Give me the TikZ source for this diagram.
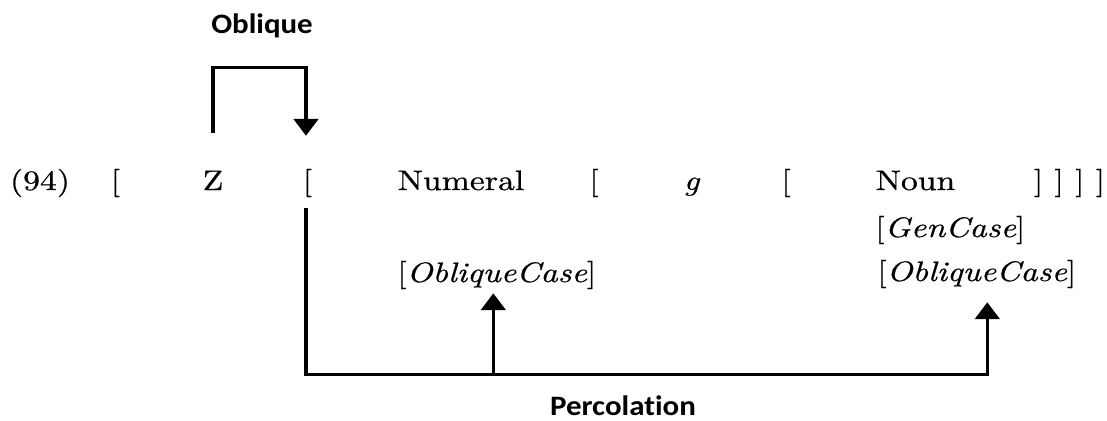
\documentclass[tikz,border=0pt]{standalone}
\usepackage{fontspec}
\setmainfont{lmroman10}[Extension=.otf, UprightFont=*-regular, ItalicFont=*-italic, BoldFont=*-bold, FakeStretch=1.2, FakeBold=0.6]
\newfontfamily\labelfont{Carlito}[FakeStretch=1.1, Ligatures=NoCommon]
\usetikzlibrary{arrows.meta,calc}

\begin{document}
\begin{tikzpicture}[x=0.025cm, y=-0.025cm,
    word/.style={anchor=base, inner sep=0pt, font=\fontsize{20}{24}\selectfont},
    feature/.style={word, anchor=base west},
    tag/.style={anchor=base, inner sep=0pt, font=\labelfont\bfseries\fontsize{20}{24}\selectfont},
    arrow/.style={-{Triangle[length=12pt, width=17.5pt]}, line width=2.3pt}
]
\useasboundingbox (0,0) rectangle (1107,421);

% Bracketed string
\node[word] (num) at (40,190) {(94)};
\node[word] (br1) at (115.5,190) {[};
\node[word] (zed) at (213,190) {Z};
\node[word] (br2) at (307.5,190) {[};
\node[word] (numeral) at (461,190) {Numeral};
\node[word] (br3) at (594,190) {[};
\node[word] (gee) at (692,190) {\textit{g}};
\node[word] (br4) at (786,190) {[};
\node[word] (noun) at (915.5,190) {Noun};
\node[word] (close) at (1069.5,190) {]\hspace{8pt}]\hspace{8pt}]\hspace{8pt}]};

% Features
\node[feature] (gen) at (875,237) {[{\itshape GenCase}]};
\node[feature] (obl2) at (877,281) {[{\itshape ObliqueCase}]};
\node[feature] (obl1) at (397,282) {[{\itshape ObliqueCase}]};

% Oblique
\coordinate (obl-from) at ($(zed.north)+(0,-37.8)$);
\coordinate (obl-to) at ($(br2.north)+(-1.5,-32.9)$);
\draw[arrow] (obl-from) -- ++(0,-65) -| (obl-to);

% Percolation
\coordinate (perc-from) at ($(br2.south)+(-1.5,11)$);
\coordinate (perc-base) at ($(perc-from)+(0,166)$);
\coordinate (perc-to1) at ($(obl1.south)+(-3.5,4)$);
\coordinate (perc-to2) at ($(obl2.south)+(10.5,14)$);
\draw[arrow] (perc-from) -- (perc-base) -| (perc-to2);
\draw[arrow] (perc-base -| perc-to1) -- (perc-to1);

% Labels
\node[tag] (oblique) at (262,33) {Oblique};
\node[tag] (percolation) at (623,415) {Percolation};

\end{tikzpicture}
\end{document}
